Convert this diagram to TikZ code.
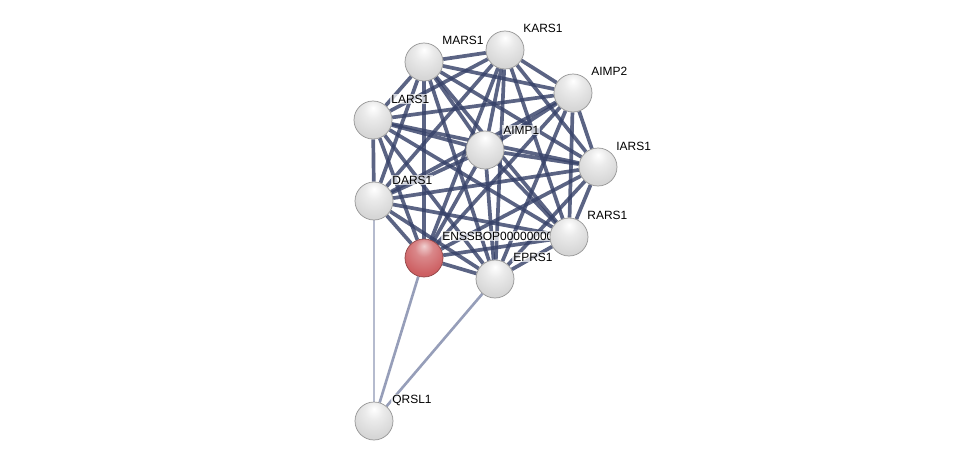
\documentclass[tikz,border=0pt]{standalone}
\usepackage{fontspec}
\setmainfont{Liberation Sans}
\usetikzlibrary{shapes, positioning, backgrounds}
\definecolor{edgecol}{RGB}{55,66,105}
\definecolor{weakcol}{RGB}{150,158,185}
\definecolor{qred}{RGB}{205,95,98}
\pgfdeclareradialshading{greysphere}{\pgfpoint{0bp}{16bp}}{color(0bp)=(white); color(12bp)=(white!92!black); color(30bp)=(white!84!black); color(50bp)=(white!80!black); color(58bp)=(white!70!black); color(70bp)=(white!60!black)}
\pgfdeclareradialshading{redsphere}{\pgfpoint{0bp}{16bp}}{color(0bp)=(white!70!qred); color(12bp)=(white!25!qred); color(30bp)=(qred); color(50bp)=(qred!95!black); color(58bp)=(qred!80!black); color(70bp)=(qred!65!black)}
\tikzstyle{protein} = [circle, minimum size=0.76cm, inner sep=0pt, shading=greysphere, draw=white!58!black, line width=0.4pt]
\tikzstyle{query} = [protein, shading=redsphere, draw=qred!70!black]
\tikzstyle{lbl} = [anchor=west, fill=white, fill opacity=0.7, text opacity=1, inner sep=0.6pt, font=\fontsize{6.8}{7.5}\selectfont]
\tikzstyle{edge} = [draw=edgecol, line width=2.1pt, opacity=0.82]
\pgfdeclarelayer{edges}
\pgfdeclarelayer{labels}
\pgfsetlayers{edges,labels,main}

\begin{document}
\begin{tikzpicture}
	\useasboundingbox (0,0) rectangle (19.5,9.34);
	% proteins
	\node [protein] (mars) at (8.48,8.10) {};
	\node [protein] (kars) at (10.10,8.34) {};
	\node [protein] (aimp2) at (11.46,7.48) {};
	\node [protein] (lars) at (7.46,6.94) {};
	\node [protein] (aimp1) at (9.70,6.34) {};
	\node [protein] (iars) at (11.96,6.00) {};
	\node [protein] (dars) at (7.48,5.32) {};
	\node [protein] (rars) at (11.38,4.60) {};
	\node [query] (enssbop) at (8.48,4.18) {};
	\node [protein] (eprs) at (9.90,3.76) {};
	\node [protein] (qrsl) at (7.48,0.92) {};
	% names
	\begin{pgfonlayer}{labels}
		\node [lbl] (marsl) at ([shift={(0.34,0.44)}]mars.center) {MARS1};
		\node [lbl] (karsl) at ([shift={(0.34,0.44)}]kars.center) {KARS1};
		\node [lbl] (aimp2l) at ([shift={(0.34,0.44)}]aimp2.center) {AIMP2};
		\node [lbl] (larsl) at ([shift={(0.34,0.42)}]lars.center) {LARS1};
		\node [lbl] (aimp1l) at ([shift={(0.34,0.40)}]aimp1.center) {AIMP1};
		\node [lbl] (iarsl) at ([shift={(0.34,0.42)}]iars.center) {IARS1};
		\node [lbl] (darsl) at ([shift={(0.34,0.42)}]dars.center) {DARS1};
		\node [lbl] (rarsl) at ([shift={(0.34,0.44)}]rars.center) {RARS1};
		\node [lbl] (enssbopl) at ([shift={(0.34,0.44)}]enssbop.center) {ENSSBOP00000000000};
		\node [lbl] (eprsl) at ([shift={(0.34,0.44)}]eprs.center) {EPRS1};
		\node [lbl] (qrsll) at ([shift={(0.34,0.42)}]qrsl.center) {QRSL1};
	\end{pgfonlayer}
	% links
	\begin{pgfonlayer}{edges}
		\foreach \a/\b in {mars/kars, mars/aimp2, mars/lars, mars/aimp1, mars/iars, mars/dars, mars/rars, mars/enssbop, mars/eprs,
			kars/aimp2, kars/lars, kars/aimp1, kars/iars, kars/dars, kars/rars, kars/enssbop, kars/eprs,
			aimp2/lars, aimp2/aimp1, aimp2/iars, aimp2/dars, aimp2/rars, aimp2/enssbop, aimp2/eprs,
			lars/aimp1, lars/iars, lars/dars, lars/rars, lars/enssbop, lars/eprs,
			aimp1/iars, aimp1/dars, aimp1/rars, aimp1/enssbop, aimp1/eprs,
			iars/dars, iars/rars, iars/enssbop, iars/eprs,
			dars/rars, dars/enssbop, dars/eprs,
			rars/enssbop, rars/eprs, enssbop/eprs}
			\draw [edge] (\a) -- (\b);
		\draw [draw=weakcol!70!white, line width=0.8pt] (qrsl) -- (dars);
		\draw [draw=weakcol, line width=1.5pt] (qrsl) -- (enssbop);
		\draw [draw=weakcol, line width=1.5pt] (qrsl) -- (eprs);
	\end{pgfonlayer}
\end{tikzpicture}
\end{document}
